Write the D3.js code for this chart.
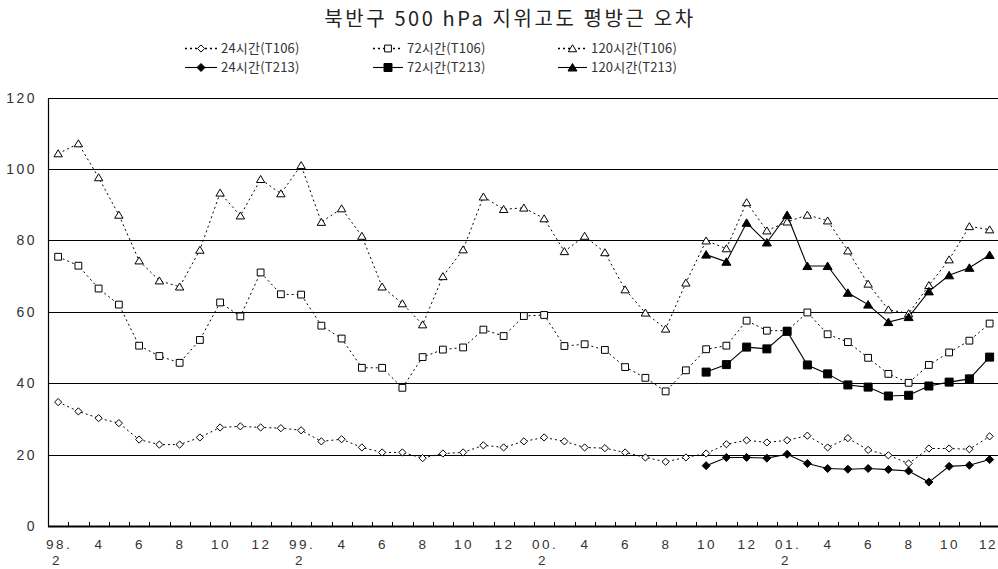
<!DOCTYPE html>
<html><head><meta charset="utf-8">
<script src="https://cdn.jsdelivr.net/npm/d3@7"></script>
<style>
html,body{margin:0;padding:0;background:#fff;}
svg{display:block;}
text{font-family:"Noto Sans CJK KR","Noto Sans",sans-serif;}
text.ax{font-family:"Liberation Sans","DejaVu Sans",sans-serif;}
</style></head>
<body>
<svg id="chart" width="998" height="569"></svg>
<script>
const title = "북반구 500 hPa 지위고도 평방근 오차";
const categories = ["98.2","98.3","98.4","98.5","98.6","98.7","98.8","98.9","98.10","98.11","98.12",
 "99.1","99.2","99.3","99.4","99.5","99.6","99.7","99.8","99.9","99.10","99.11","99.12",
 "00.1","00.2","00.3","00.4","00.5","00.6","00.7","00.8","00.9","00.10","00.11","00.12",
 "01.1","01.2","01.3","01.4","01.5","01.6","01.7","01.8","01.9","01.10","01.11","01.12"];
const yTicks = [0,20,40,60,80,100,120];
const h24_T106 = [34.7,32.1,30.2,28.8,24.2,22.8,22.8,24.8,27.6,27.9,27.6,27.4,26.8,23.7,24.3,22.0,20.6,20.6,19.0,20.3,20.6,22.6,22.0,23.7,24.8,23.7,22.0,21.8,20.6,19.2,18.0,19.2,20.3,22.9,24.0,23.4,24.0,25.3,22.0,24.6,21.3,19.8,17.5,21.7,21.7,21.5,25.1];
const h72_T106 = [75.4,72.9,66.5,62.0,50.5,47.6,45.7,52.1,62.6,58.7,71.0,64.9,64.8,56.1,52.5,44.3,44.3,38.7,47.3,49.4,50.0,55.0,53.2,58.8,59.1,50.4,50.9,49.3,44.5,41.5,37.7,43.6,49.5,50.5,57.5,54.7,54.7,59.8,53.7,51.5,47.1,42.6,40.1,45.1,48.6,51.9,56.7];
const h120_T106 = [104.3,107.1,97.6,87.1,74.3,68.7,67.0,77.3,93.3,86.9,97.1,93.1,101.0,85.1,88.9,81.2,67.0,62.3,56.4,69.9,77.4,92.2,88.7,89.1,86.1,76.9,81.2,76.6,66.2,59.7,55.2,68.1,79.9,77.7,90.6,82.7,85.2,87.1,85.5,77.1,67.8,60.6,59.5,67.4,74.6,83.9,83.0];
const N = null;
const h24_T213 = [N,N,N,N,N,N,N,N,N,N,N,N,N,N,N,N,N,N,N,N,N,N,N,N,N,N,N,N,N,N,N,N,16.9,19.2,19.2,19.0,20.1,17.5,16.1,15.9,16.1,15.8,15.4,12.3,16.7,17.0,18.6];
const h72_T213 = [N,N,N,N,N,N,N,N,N,N,N,N,N,N,N,N,N,N,N,N,N,N,N,N,N,N,N,N,N,N,N,N,43.1,45.2,50.1,49.6,54.5,45.1,42.6,39.5,38.9,36.4,36.6,39.2,40.3,41.2,47.3];
const h120_T213 = [N,N,N,N,N,N,N,N,N,N,N,N,N,N,N,N,N,N,N,N,N,N,N,N,N,N,N,N,N,N,N,N,76.0,74.0,84.9,79.4,87.1,72.8,72.8,65.3,62.0,57.1,58.5,65.7,70.2,72.3,75.9];

const seriesNames = ["24시간(T106)","72시간(T106)","120시간(T106)","24시간(T213)","72시간(T213)","120시간(T213)"];
const series = [
  {name:seriesNames[0], values:h24_T106, shape:"diamond", filled:false, dashed:true},
  {name:seriesNames[1], values:h72_T106, shape:"square", filled:false, dashed:true},
  {name:seriesNames[2], values:h120_T106, shape:"triangle", filled:false, dashed:true},
  {name:seriesNames[3], values:h24_T213, shape:"diamond", filled:true, dashed:false},
  {name:seriesNames[4], values:h72_T213, shape:"square", filled:true, dashed:false},
  {name:seriesNames[5], values:h120_T213, shape:"triangle", filled:true, dashed:false}
];

const svg = d3.select("#chart");
const plotLeft = 48, plotTop = 97.5, plotBottom = 526;
const x = d3.scaleBand().domain(categories).range([plotLeft, plotLeft + categories.length*20.25]).padding(0);
const y = d3.scaleLinear().domain([0,120]).range([plotBottom, plotTop]);
const cx = c => x(c) + x.bandwidth()/2;

function shapePath(shape, filled){
  if (shape==="diamond"){ const r = filled?4:3.6; return `M0,${-r}L${r},0L0,${r}L${-r},0Z`; }
  if (shape==="square"){ const r = filled?4:3.4; return `M${-r},${-r}H${r}V${r}H${-r}Z`; }
  const w = filled?4.5:4.2, h = filled?7:6.5;
  return `M0,${-h/2-0.5}L${w},${h/2}L${-w},${h/2}Z`;
}

// title
svg.append("text").attr("x", 510).attr("y", 26).attr("text-anchor","middle")
  .attr("font-size", 20).attr("letter-spacing", 2.6).attr("fill","#222").text(title);

// gridlines
const gridG = svg.append("g");
yTicks.filter(t=>t>0).forEach(t=>{
  gridG.append("line").attr("x1", plotLeft).attr("x2", 998)
    .attr("y1", Math.round(y(t))+0.5).attr("y2", Math.round(y(t))+0.5)
    .attr("stroke", "#000").attr("stroke-width", 1);
});
// left axis line
svg.append("line").attr("x1", plotLeft+0.5).attr("x2", plotLeft+0.5).attr("y1", Math.round(y(120))).attr("y2", plotBottom+1)
  .attr("stroke","#000").attr("stroke-width",1.2);

// y labels
svg.append("g").selectAll("text").data(yTicks).join("text").attr("class","ax")
  .attr("x", 37).attr("y", d=>y(d)+5).attr("text-anchor","end")
  .attr("font-size", 14).attr("letter-spacing", 2.5).attr("fill","#333").text(d=>d);

// x axis
svg.append("line").attr("x1", plotLeft).attr("x2", 998).attr("y1", plotBottom+0.5).attr("y2", plotBottom+0.5)
  .attr("stroke","#000").attr("stroke-width",2);
// boundary tick marks (pointing up)
svg.append("g").selectAll("line").data(categories.slice(1)).join("line")
  .attr("x1", d=>Math.round(x(d))+0.5).attr("x2", d=>Math.round(x(d))+0.5)
  .attr("y1", plotBottom-4).attr("y2", plotBottom)
  .attr("stroke","#000").attr("stroke-width",1);
// x labels
const xl = svg.append("g");
categories.forEach((c,i)=>{
  const [yy, mm] = c.split(".");
  const m = +mm;
  if (m % 2 !== 0) return;
  const isLast = i === categories.length-1;
  const px = isLast ? 997 : cx(c) + 1;
  const t = xl.append("text").attr("class","ax").attr("x", px).attr("y", 549)
    .attr("text-anchor", isLast ? "end" : "middle")
    .attr("font-size", 13.5).attr("letter-spacing", isLast ? 1.5 : 2.5).attr("fill","#333");
  if (m === 2){
    t.append("tspan").attr("x", px).attr("dy", 0).text(yy + ".");
    t.append("tspan").attr("x", px - 2).attr("dy", 16).text(mm);
  } else t.text(mm);
});

// series
const line = d3.line().defined(d=>d.v!==null).x(d=>cx(d.c)).y(d=>y(d.v));
series.forEach(s=>{
  const pts = s.values.map((v,i)=>({c:categories[i], v}));
  svg.append("path").datum(pts).attr("d", line).attr("fill","none")
    .attr("stroke","#000").attr("stroke-width", s.dashed?1:1.1)
    .attr("stroke-dasharray", s.dashed?"2,3":null);
});
series.forEach(s=>{
  const pts = s.values.map((v,i)=>({c:categories[i], v})).filter(d=>d.v!==null);
  svg.append("g").selectAll("path").data(pts).join("path")
    .attr("transform", d=>`translate(${cx(d.c)},${y(d.v)})`)
    .attr("d", shapePath(s.shape, s.filled))
    .attr("fill", s.filled?"#000":"#fff").attr("stroke","#000").attr("stroke-width",1);
});

// legend
const legX = [185, 373, 558], legTextX = [221, 407, 591], legY = [48.5, 67.5];
series.forEach((s,i)=>{
  const col = i%3, row = Math.floor(i/3);
  const g = svg.append("g");
  const x0 = legX[col], x1 = legTextX[col]-4, yy = legY[row];
  g.append("line").attr("x1",x0).attr("x2",x1).attr("y1",yy).attr("y2",yy)
    .attr("stroke","#000").attr("stroke-width", s.dashed?1.5:1.1).attr("stroke-dasharray", s.dashed?"2,3":null);
  g.append("path").attr("transform",`translate(${(x0+x1)/2},${yy})`).attr("d", shapePath(s.shape,s.filled))
    .attr("fill", s.filled?"#000":"#fff").attr("stroke","#000");
  g.append("text").attr("x", legTextX[col]).attr("y", yy+4.5).attr("font-size",13).attr("letter-spacing",0.2).attr("fill","#333").text(s.name);
});
</script>
</body></html>
